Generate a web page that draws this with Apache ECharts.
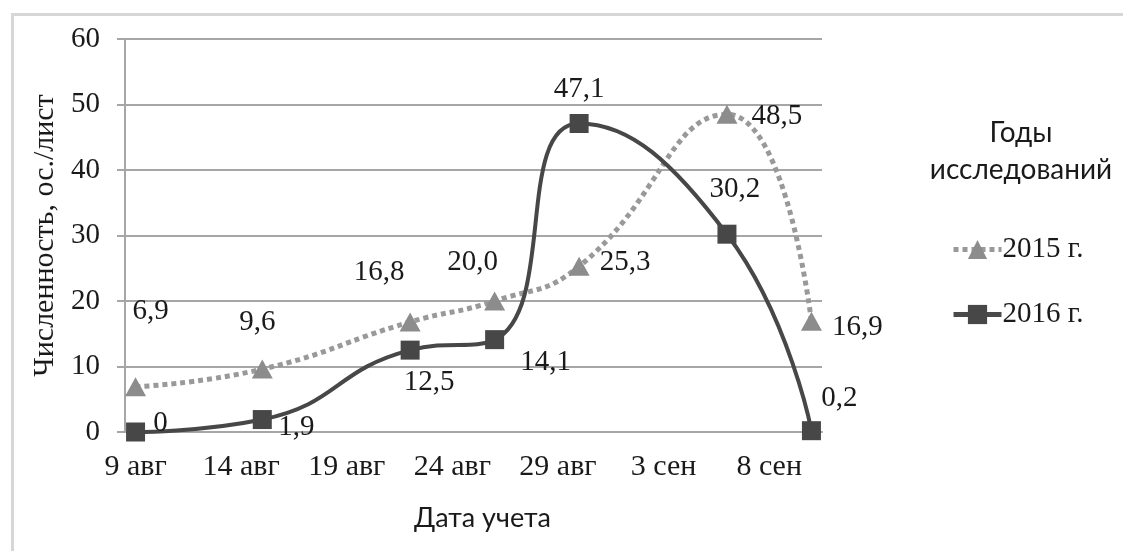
<!DOCTYPE html>
<html>
<head>
<meta charset="utf-8">
<script src="https://cdn.jsdelivr.net/npm/echarts@6/dist/echarts.min.js"></script>
<style>
html,body{margin:0;padding:0;background:#fff;}
#chart{width:1123px;height:551px;}
</style>
</head>
<body>
<div id="chart"></div>
<script>
// Axis categories (one per day, 9 Aug – 10 Sep)
var days = ['9 авг','10 авг','11 авг','12 авг','13 авг','14 авг','15 авг','16 авг','17 авг','18 авг',
  '19 авг','20 авг','21 авг','22 авг','23 авг','24 авг','25 авг','26 авг','27 авг','28 авг',
  '29 авг','30 авг','31 авг','1 сен','2 сен','3 сен','4 сен','5 сен','6 сен','7 сен',
  '8 сен','9 сен','10 сен'];
// Survey dates
var surveyDates = ['9 авг','15 авг','22 авг','26 авг','30 авг','6 сен','10 сен'];
// Series values
var values2015 = [6.9, 9.6, 16.8, 20.0, 25.3, 48.5, 16.9];
var values2016 = [0, 1.9, 12.5, 14.1, 47.1, 30.2, 0.2];
var seriesNames = ['2015 г.', '2016 г.'];
var yTicks = [0, 10, 20, 30, 40, 50, 60];

// label offsets (layout only)
var off2015 = [[15,-75],[-5,-47],[-31,-50],[-22,-39],[46,-4],[50,2],[46,6]];
var off2016 = [[25,-9],[34,8],[19,32],[51,23],[0,-34],[8,-45],[28,-32]];

function fmt(v){ return v === 0 ? '0' : v.toFixed(1).replace('.', ','); }
function build(vals, offs){
  return vals.map(function(v,i){
    return {value:[surveyDates[i], v], label:{offset: offs[i]}};
  });
}

var serif = 'Liberation Serif';
var sans = 'Lato';

var chart = echarts.init(document.getElementById('chart'));
chart.setOption({
  animation:false,
  backgroundColor:'#ffffff',
  grid:{left:125, right:301, top:39, bottom:119},
  graphic:[
    {type:'rect', left:10, top:12, shape:{width:1300, height:700},
     style:{fill:'none', stroke:'#d6d6d6', lineWidth:3}, silent:true, z:-1},
    {type:'text', x:1021, y:133, style:{text:'Годы', font:'28px Lato', fill:'#1a1a1a', textAlign:'center', textVerticalAlign:'middle'}},
    {type:'text', x:1021, y:170, style:{text:'исследований', font:'28px Lato', fill:'#1a1a1a', textAlign:'center', textVerticalAlign:'middle'}}
  ],
  legend:{
    orient:'vertical', left:946, top:230, itemWidth:48, itemHeight:24, itemGap:36,
    data:[
      {name:seriesNames[0], lineStyle:{width:5, color:'#999999', type:[5,4]}},
      {name:seriesNames[1], lineStyle:{width:5, color:'#4a4a4a'}}
    ],
    textStyle:{fontFamily:serif, fontSize:29, color:'#1a1a1a', padding:[0,0,0,-4]}
  },
  xAxis:{
    type:'category', data:days, boundaryGap:true,
    name:'Дата учета', nameLocation:'middle', nameGap:73,
    nameTextStyle:{fontFamily:sans, fontSize:27, color:'#1a1a1a', padding:[0,0,0,18]},
    axisLine:{lineStyle:{color:'#a6a6a6', width:2}},
    axisTick:{interval:4, length:9, lineStyle:{color:'#a6a6a6', width:2}},
    axisLabel:{interval:4, margin:20, fontFamily:serif, fontSize:30, color:'#1a1a1a'},
    splitLine:{show:false}
  },
  yAxis:{
    type:'value', min:yTicks[0], max:yTicks[yTicks.length-1], interval:10,
    name:'Численность, ос./лист', nameLocation:'middle', nameGap:62, nameRotate:90,
    nameTextStyle:{fontFamily:serif, fontSize:30, color:'#1a1a1a'},
    axisLine:{show:true, lineStyle:{color:'#a6a6a6', width:2}},
    axisTick:{show:true, length:8, lineStyle:{color:'#a6a6a6', width:2}},
    axisLabel:{margin:25, fontFamily:serif, fontSize:29, color:'#1a1a1a'},
    splitLine:{lineStyle:{color:'#a6a6a6', width:2}}
  },
  series:[
    {
      name:seriesNames[0], type:'line', smooth:0.5, connectNulls:true, showAllSymbol:true,
      data:build(values2015, off2015),
      symbol:'triangle', symbolSize:[21,19],
      itemStyle:{color:'#8c8c8c'},
      lineStyle:{color:'#999999', width:5, type:[5,4]},
      label:{show:true, position:'inside', fontFamily:serif, fontSize:29, color:'#1a1a1a',
        formatter:function(p){return fmt(p.value[1]);}}
    },
    {
      name:seriesNames[1], type:'line', smooth:0.5, connectNulls:true, showAllSymbol:true,
      data:build(values2016, off2016),
      symbol:'rect', symbolSize:19,
      itemStyle:{color:'#474747'},
      lineStyle:{color:'#474747', width:4},
      label:{show:true, position:'inside', fontFamily:serif, fontSize:29, color:'#1a1a1a',
        formatter:function(p){return fmt(p.value[1]);}}
    }
  ]
});
</script>
</body>
</html>
